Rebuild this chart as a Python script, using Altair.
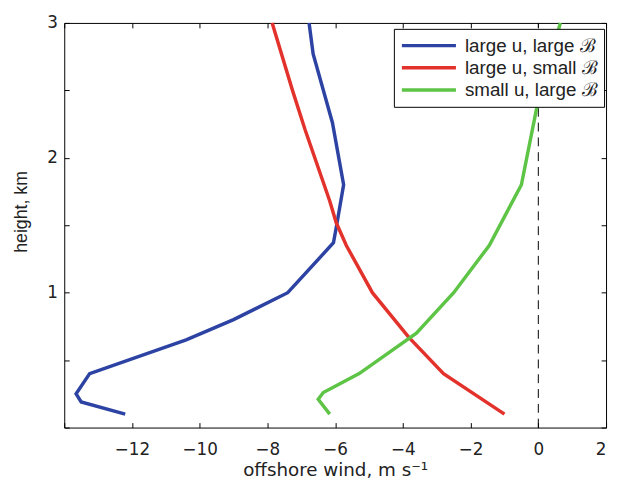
import altair as alt
import pandas as pd

# ---- data ----
series_names = ["large u, large ℬ", "large u, small ℬ", "small u, large ℬ"]
series_colors = ["#2d43a3", "#e3322b", "#5dc446"]

blue_wind = [-12.2, -13.5, -13.65, -13.25, -10.4, -9.0, -7.4, -6.05, -5.97, -5.75, -6.08, -6.65, -6.77]
blue_height = [0.10, 0.19, 0.25, 0.40, 0.65, 0.80, 1.00, 1.37, 1.48, 1.80, 2.26, 2.77, 3.00]

red_wind = [-1.0, -2.8, -3.83, -4.9, -5.67, -5.97, -6.16, -6.89, -7.26, -7.86]
red_height = [0.10, 0.40, 0.67, 1.00, 1.35, 1.52, 1.68, 2.21, 2.50, 3.00]

green_wind = [-6.16, -6.5, -6.35, -5.29, -3.6, -2.5, -1.45, -0.5, -0.04, 0.65]
green_height = [0.10, 0.21, 0.26, 0.40, 0.70, 1.00, 1.35, 1.80, 2.38, 3.00]

zero_line = [0]
x_ticks = [-14, -12, -10, -8, -6, -4, -2, 0, 2]
y_ticks = [0, 0.5, 1, 1.5, 2, 2.5, 3]
x_domain = [-14, 2]
y_domain = [0, 3]

rows = []
for name, xs, ys in zip(series_names,
                        [blue_wind, red_wind, green_wind],
                        [blue_height, red_height, green_height]):
    for i, (xv, yv) in enumerate(zip(xs, ys)):
        rows.append({"series": name, "wind": xv, "height": yv, "order": i})
df = pd.DataFrame(rows)
zero_df = pd.DataFrame({"x": zero_line, "y0": [y_domain[0]], "y1": [y_domain[1]]})

FONT = "Liberation Sans"
WIDE = "DejaVu Sans"

x_scale = alt.Scale(domain=x_domain, nice=False, zero=False)
y_scale = alt.Scale(domain=y_domain, nice=False, zero=False)

minus_expr = "datum.value == -14 ? '' : (datum.value < 0 ? '\u2212' + abs(datum.value) : '' + datum.value)"
ylab_expr = "(datum.value % 1 == 0 && datum.value > 0) ? '' + datum.value : ''"

lines = alt.Chart(df).mark_line(strokeWidth=3.5, strokeJoin="miter", strokeCap="butt").encode(
    x=alt.X("wind:Q", scale=x_scale,
            axis=alt.Axis(orient="bottom", values=x_ticks, labelExpr=minus_expr,
                          title="offshore wind, m s\u207b\u00b9", offset=-5, tickSize=5,
                          domain=False, labelPadding=14, titlePadding=4,
                          labelFont=WIDE, labelFontSize=17,
                          titleFont=WIDE, titleFontSize=18.5)),
    y=alt.Y("height:Q", scale=y_scale,
            axis=alt.Axis(orient="left", values=y_ticks, labelExpr=ylab_expr,
                          title="height, km", offset=-5, tickSize=5,
                          domain=False, labelPadding=7, titlePadding=16,
                          labelFont=WIDE, labelFontSize=17,
                          titleFont=FONT, titleFontSize=18, titleY=191)),
    color=alt.Color("series:N",
                    scale=alt.Scale(domain=series_names, range=series_colors),
                    legend=alt.Legend(title=None, orient="none", legendX=334, legendY=6,
                                      symbolType="stroke", symbolSize=3000,
                                      symbolStrokeWidth=3.5, labelFontSize=19,
                                      labelFont=FONT, labelColor="#222222",
                                      fillColor="white", strokeColor="black",
                                      padding=6, clipHeight=22, rowPadding=0.5,
                                      labelOffset=7)),
    order="order:Q",
)

zero = alt.Chart(zero_df).mark_rule(color="black", strokeWidth=1, strokeDash=[9, 6]).encode(
    x=alt.X("x:Q", scale=x_scale,
            axis=alt.Axis(orient="top", values=x_ticks, labels=False, title=None,
                          offset=-5, tickSize=5, domain=False)),
    y=alt.Y("y0:Q", scale=y_scale,
            axis=alt.Axis(orient="right", values=y_ticks, labels=False, title=None,
                          offset=-5, tickSize=5, domain=False)),
    y2="y1:Q",
)

chart = alt.layer(zero, lines).properties(
    width=549, height=410,
    autosize=alt.AutoSizeParams(type="none"),
    padding={"left": 57, "top": 12, "right": 4, "bottom": 50},
).configure_view(
    stroke="black", strokeWidth=1
).configure_axis(
    grid=False, tickColor="black", labelColor="#222222", titleColor="#222222",
    titleFontWeight="normal", tickWidth=1
)

chart.save("out.html", embed_options={"renderer": "svg", "actions": False})
